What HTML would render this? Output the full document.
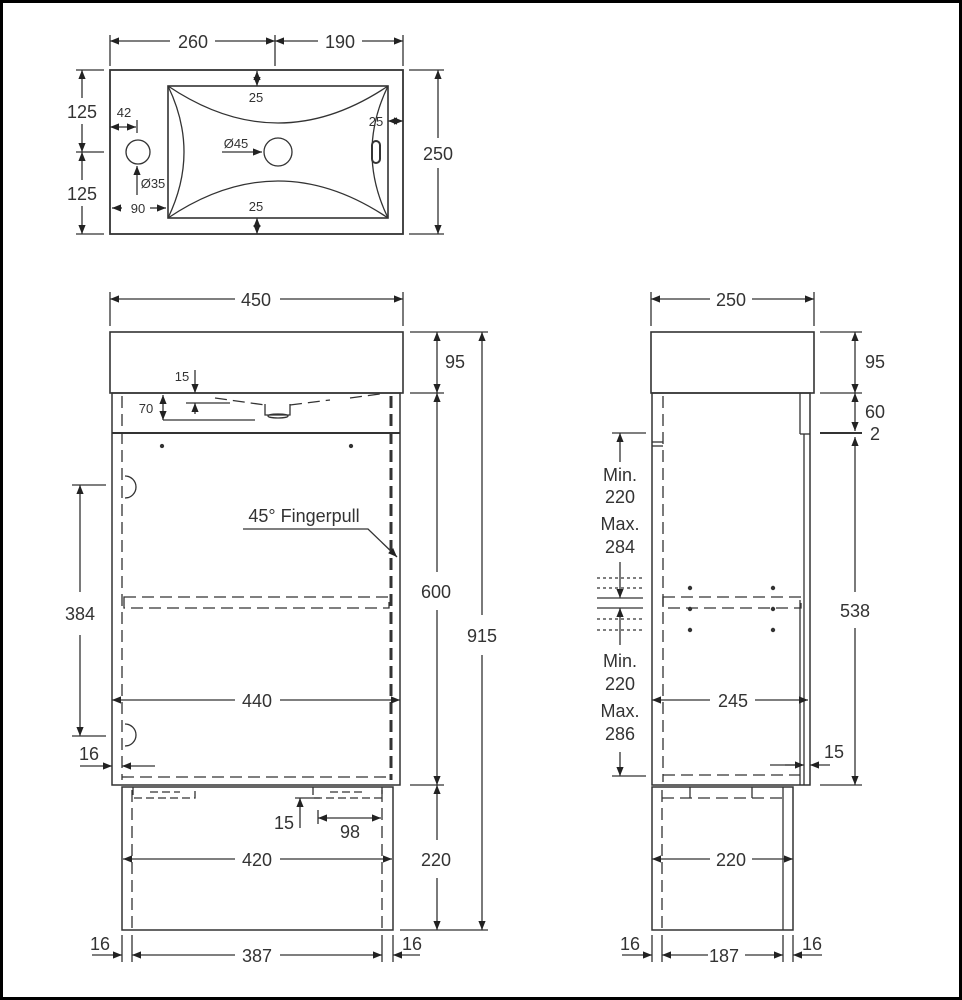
<!DOCTYPE html>
<html><head><meta charset="utf-8"><style>
html,body{margin:0;padding:0;background:#fff}
svg{display:block}
text{font-family:"Liberation Sans",sans-serif;fill:#333;text-anchor:middle}
</style></head><body>
<svg width="962" height="1000" viewBox="0 0 962 1000" xmlns="http://www.w3.org/2000/svg">
<defs>
<marker id="a" viewBox="0 0 10 10" refX="10" refY="5" markerWidth="7" markerHeight="7" orient="auto-start-reverse"><path d="M0,1 L10,5 L0,9z" fill="#222"/></marker>
</defs>
<rect x="1.5" y="1.5" width="959" height="997" fill="none" stroke="#000" stroke-width="3"/>
<g stroke="#333" stroke-width="1.3" fill="none">
<!-- TOP VIEW -->
<rect x="110" y="70" width="293" height="164" stroke-width="1.8"/>
<rect x="168" y="86" width="220" height="132" stroke-width="1.6"/>
<path d="M168,86 Q278,160 388,86 M168,218 Q278,144 388,218 M168,86 Q200,152 168,218 M388,86 Q356,152 388,218"/>
<circle cx="138" cy="152" r="12"/>
<circle cx="278" cy="152" r="14"/>
<rect x="372" y="141" width="8" height="22" rx="4" stroke-width="2"/>
<!-- top dims -->
<line x1="110" y1="35" x2="110" y2="66"/><line x1="275" y1="35" x2="275" y2="66"/><line x1="403" y1="35" x2="403" y2="66"/>
<line x1="110" y1="41" x2="170" y2="41" marker-start="url(#a)"/><line x1="215" y1="41" x2="275" y2="41" marker-end="url(#a)"/>
<line x1="275" y1="41" x2="318" y2="41" marker-start="url(#a)"/><line x1="362" y1="41" x2="403" y2="41" marker-end="url(#a)"/>
<line x1="76" y1="70" x2="104" y2="70"/><line x1="76" y1="152" x2="104" y2="152"/><line x1="76" y1="234" x2="104" y2="234"/>
<line x1="82" y1="70" x2="82" y2="98" marker-start="url(#a)"/><line x1="82" y1="124" x2="82" y2="152" marker-end="url(#a)"/>
<line x1="82" y1="152" x2="82" y2="180" marker-start="url(#a)"/><line x1="82" y1="206" x2="82" y2="234" marker-end="url(#a)"/>
<line x1="409" y1="70" x2="444" y2="70"/><line x1="409" y1="234" x2="444" y2="234"/>
<line x1="438" y1="70" x2="438" y2="138" marker-start="url(#a)"/><line x1="438" y1="168" x2="438" y2="234" marker-end="url(#a)"/>
<line x1="110" y1="127" x2="136" y2="127" marker-start="url(#a)" marker-end="url(#a)"/><line x1="137" y1="120" x2="137" y2="133"/>
<line x1="137" y1="195" x2="137" y2="166" marker-end="url(#a)"/>
<line x1="112" y1="208" x2="122" y2="208" marker-start="url(#a)"/><line x1="150" y1="208" x2="166" y2="208" marker-end="url(#a)"/>
<line x1="222" y1="152" x2="262" y2="152" marker-end="url(#a)"/>
<line x1="257" y1="71" x2="257" y2="86" marker-start="url(#a)" marker-end="url(#a)"/>
<line x1="257" y1="218" x2="257" y2="234" marker-start="url(#a)" marker-end="url(#a)"/>
<line x1="388" y1="121" x2="403" y2="121" marker-start="url(#a)" marker-end="url(#a)"/>
<!-- FRONT VIEW -->
<line x1="110" y1="292" x2="110" y2="326"/><line x1="403" y1="292" x2="403" y2="326"/>
<line x1="110" y1="299" x2="235" y2="299" marker-start="url(#a)"/><line x1="280" y1="299" x2="403" y2="299" marker-end="url(#a)"/>
<rect x="110" y="332" width="293" height="61" stroke-width="1.6"/>
<rect x="112" y="393" width="288" height="392" stroke-width="1.5"/>
<line x1="112" y1="433" x2="400" y2="433" stroke-width="2"/>
<g stroke-dasharray="12,6">
<line x1="122" y1="396" x2="122" y2="780"/><line x1="391" y1="396" x2="391" y2="780" stroke-width="3"/>
<line x1="122" y1="777" x2="391" y2="777"/>
<rect x="124" y="597" width="265" height="11"/>
<path d="M215,398 L265,405 M290,405 L330,400 M350,398 L380,394"/>
</g>
<path d="M265,404 L265,415 L290,415 L290,404"/><ellipse cx="278" cy="416" rx="10" ry="2"/>
<circle cx="162" cy="446" r="1.5" fill="#333"/><circle cx="351" cy="446" r="1.5" fill="#333"/>
<path d="M125,476 A11,11 0 1 1 125,498"/><path d="M125,724 A11,11 0 1 1 125,746"/>
<line x1="72" y1="485" x2="106" y2="485"/><line x1="72" y1="736" x2="106" y2="736"/>
<line x1="80" y1="485" x2="80" y2="592" marker-start="url(#a)"/><line x1="80" y1="635" x2="80" y2="736" marker-end="url(#a)"/>
<line x1="112" y1="700" x2="235" y2="700" marker-start="url(#a)"/><line x1="280" y1="700" x2="400" y2="700" marker-end="url(#a)"/>
<line x1="80" y1="766" x2="112" y2="766" marker-end="url(#a)"/><line x1="122" y1="766" x2="155" y2="766" marker-start="url(#a)"/>
<path d="M243,529 L368,529 L396,556" /><line x1="390" y1="550" x2="397" y2="557" marker-end="url(#a)"/>
<line x1="163" y1="420" x2="255" y2="420"/><line x1="186" y1="403" x2="230" y2="403"/>
<line x1="163" y1="395" x2="163" y2="420" marker-start="url(#a)" marker-end="url(#a)"/>
<line x1="195" y1="370" x2="195" y2="393" marker-end="url(#a)"/><line x1="195" y1="414" x2="195" y2="403" marker-end="url(#a)"/>
<!-- legs -->
<rect x="122" y="787" width="271" height="143" stroke-width="1.5"/>
<g stroke-dasharray="12,6"><line x1="132" y1="790" x2="132" y2="928"/><line x1="382" y1="790" x2="382" y2="928"/></g>
<path d="M133,787 L133,798 L195,798 L195,787 M313,787 L313,798 L382,798 L382,787 M150,792 L180,792 M330,792 L365,792" stroke-dasharray="8,4"/>
<line x1="295" y1="798" x2="320" y2="798"/><line x1="300" y1="828" x2="300" y2="798" marker-end="url(#a)"/>
<line x1="318" y1="810" x2="318" y2="824"/><line x1="318" y1="818" x2="381" y2="818" marker-start="url(#a)" marker-end="url(#a)"/>
<line x1="123" y1="859" x2="235" y2="859" marker-start="url(#a)"/><line x1="280" y1="859" x2="392" y2="859" marker-end="url(#a)"/>
<line x1="122" y1="935" x2="122" y2="962"/><line x1="132" y1="935" x2="132" y2="962"/><line x1="382" y1="935" x2="382" y2="962"/><line x1="393" y1="935" x2="393" y2="962"/>
<line x1="92" y1="955" x2="122" y2="955" marker-end="url(#a)"/>
<line x1="132" y1="955" x2="235" y2="955" marker-start="url(#a)"/><line x1="280" y1="955" x2="382" y2="955" marker-end="url(#a)"/>
<line x1="393" y1="955" x2="420" y2="955" marker-start="url(#a)"/>
<!-- front right dims -->
<line x1="410" y1="332" x2="488" y2="332"/><line x1="410" y1="393" x2="444" y2="393"/><line x1="410" y1="785" x2="444" y2="785"/><line x1="400" y1="930" x2="488" y2="930"/>
<line x1="437" y1="332" x2="437" y2="393" marker-start="url(#a)" marker-end="url(#a)"/>
<line x1="437" y1="393" x2="437" y2="572" marker-start="url(#a)"/><line x1="437" y1="610" x2="437" y2="785" marker-end="url(#a)"/>
<line x1="437" y1="785" x2="437" y2="840" marker-start="url(#a)"/><line x1="437" y1="878" x2="437" y2="930" marker-end="url(#a)"/>
<line x1="482" y1="332" x2="482" y2="615" marker-start="url(#a)"/><line x1="482" y1="655" x2="482" y2="930" marker-end="url(#a)"/>
<!-- SIDE VIEW -->
<line x1="651" y1="292" x2="651" y2="326"/><line x1="814" y1="292" x2="814" y2="326"/>
<line x1="651" y1="299" x2="710" y2="299" marker-start="url(#a)"/><line x1="752" y1="299" x2="814" y2="299" marker-end="url(#a)"/>
<rect x="651" y="332" width="163" height="61" stroke-width="1.6"/>
<rect x="652" y="393" width="158" height="392" stroke-width="1.5"/>
<line x1="800" y1="393" x2="800" y2="434"/><line x1="800" y1="434" x2="810" y2="434"/><line x1="804" y1="434" x2="804" y2="785"/>
<line x1="652" y1="446" x2="663" y2="446"/><line x1="652" y1="442" x2="663" y2="442"/>
<g stroke-dasharray="12,6">
<line x1="663" y1="396" x2="663" y2="782"/><line x1="663" y1="775" x2="800" y2="775"/>
<rect x="663" y="597" width="138" height="11"/>
<line x1="662" y1="790" x2="662" y2="928"/><line x1="662" y1="798" x2="783" y2="798"/>
</g>
<line x1="800" y1="600" x2="800" y2="785"/>
<g fill="#333" stroke="none"><circle cx="690" cy="588" r="2.2"/><circle cx="773" cy="588" r="2.2"/><circle cx="690" cy="609" r="2.2"/><circle cx="773" cy="609" r="2.2"/><circle cx="690" cy="630" r="2.2"/><circle cx="773" cy="630" r="2.2"/></g>
<rect x="652" y="787" width="141" height="143" stroke-width="1.5"/>
<line x1="783" y1="787" x2="783" y2="930"/>
<path d="M690,787 L690,798 M752,787 L752,798"/>
<line x1="612" y1="433" x2="646" y2="433"/><line x1="612" y1="776" x2="646" y2="776"/>
<line x1="620" y1="433" x2="620" y2="462" marker-start="url(#a)"/><line x1="620" y1="562" x2="620" y2="598" marker-end="url(#a)"/>
<line x1="620" y1="608" x2="620" y2="645" marker-start="url(#a)"/><line x1="620" y1="752" x2="620" y2="776" marker-end="url(#a)"/>
<line x1="597" y1="598" x2="643" y2="598"/><line x1="597" y1="608" x2="643" y2="608"/>
<g stroke-dasharray="3,3"><line x1="597" y1="578" x2="643" y2="578"/><line x1="597" y1="588" x2="643" y2="588"/><line x1="597" y1="619" x2="643" y2="619"/><line x1="597" y1="630" x2="643" y2="630"/></g>
<line x1="652" y1="700" x2="710" y2="700" marker-start="url(#a)"/><line x1="755" y1="700" x2="808" y2="700" marker-end="url(#a)"/>
<line x1="770" y1="765" x2="797" y2="765"/><line x1="785" y1="765" x2="804" y2="765" marker-end="url(#a)"/><line x1="830" y1="765" x2="810" y2="765" marker-end="url(#a)"/>
<line x1="820" y1="332" x2="862" y2="332"/><line x1="820" y1="393" x2="862" y2="393"/><line x1="820" y1="433" x2="862" y2="433" stroke-width="2"/><line x1="820" y1="785" x2="862" y2="785"/>
<line x1="855" y1="332" x2="855" y2="393" marker-start="url(#a)" marker-end="url(#a)"/>
<line x1="855" y1="393" x2="855" y2="431" marker-start="url(#a)" marker-end="url(#a)"/>
<line x1="855" y1="437" x2="855" y2="592" marker-start="url(#a)"/><line x1="855" y1="628" x2="855" y2="785" marker-end="url(#a)"/>
<line x1="652" y1="859" x2="710" y2="859" marker-start="url(#a)"/><line x1="752" y1="859" x2="793" y2="859" marker-end="url(#a)"/>
<line x1="652" y1="935" x2="652" y2="962"/><line x1="662" y1="935" x2="662" y2="962"/><line x1="783" y1="935" x2="783" y2="962"/><line x1="793" y1="935" x2="793" y2="962"/>
<line x1="622" y1="955" x2="652" y2="955" marker-end="url(#a)"/>
<line x1="662" y1="955" x2="708" y2="955" marker-start="url(#a)"/><line x1="745" y1="955" x2="783" y2="955" marker-end="url(#a)"/>
<line x1="793" y1="955" x2="822" y2="955" marker-start="url(#a)"/>
</g>
<g font-size="18">
<text x="193" y="48">260</text><text x="340" y="48">190</text>
<text x="82" y="118">125</text><text x="82" y="200">125</text><text x="438" y="160">250</text>
<text x="256" y="306">450</text><text x="455" y="368">95</text><text x="436" y="598">600</text><text x="436" y="866">220</text><text x="482" y="642">915</text>
<text x="80" y="620">384</text><text x="257" y="707">440</text><text x="89" y="760">16</text>
<text x="284" y="829">15</text><text x="350" y="838">98</text><text x="257" y="866">420</text>
<text x="100" y="950">16</text><text x="257" y="962">387</text><text x="412" y="950">16</text>
<text x="304" y="522" text-anchor="middle">45° Fingerpull</text>
<text x="731" y="306">250</text><text x="875" y="368">95</text><text x="875" y="418">60</text><text x="875" y="440">2</text><text x="855" y="617">538</text>
<text x="620" y="481">Min.</text><text x="620" y="503">220</text><text x="620" y="530">Max.</text><text x="620" y="553">284</text>
<text x="620" y="667">Min.</text><text x="620" y="690">220</text><text x="620" y="717">Max.</text><text x="620" y="740">286</text>
<text x="733" y="707">245</text><text x="834" y="758">15</text><text x="731" y="866">220</text>
<text x="630" y="950">16</text><text x="724" y="962">187</text><text x="812" y="950">16</text>
</g>
<g font-size="13">
<text x="256" y="102">25</text><text x="256" y="211">25</text><text x="376" y="126">25</text>
<text x="124" y="117">42</text><text x="236" y="148">Ø45</text><text x="153" y="188">Ø35</text><text x="138" y="213">90</text>
<text x="182" y="381">15</text><text x="146" y="413">70</text>
</g>
</svg>
</body></html>
